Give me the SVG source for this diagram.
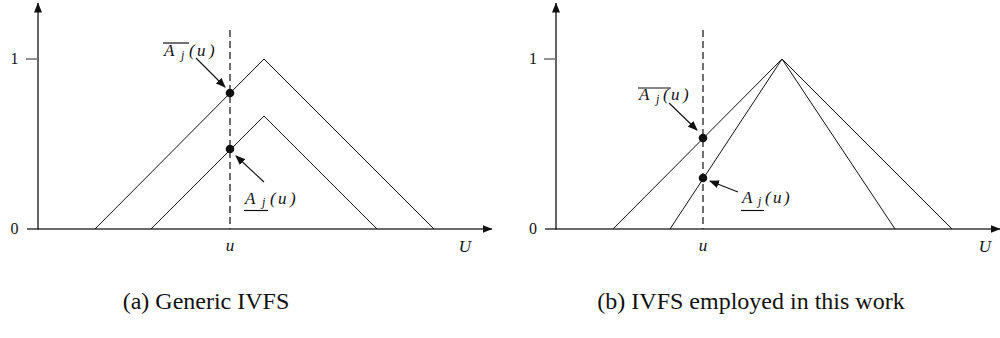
<svg xmlns="http://www.w3.org/2000/svg" width="1000" height="338" viewBox="0 0 1000 338">
<defs>
<marker id="ah" markerWidth="10" markerHeight="8" refX="9" refY="4" orient="auto" markerUnits="userSpaceOnUse">
<path d="M0,0 L10,4 L0,8 z" fill="#111"/>
</marker>
<marker id="axh" markerWidth="10" markerHeight="8" refX="9.5" refY="4" orient="auto" markerUnits="userSpaceOnUse">
<path d="M0,0 L10,4 L0,8 z" fill="#111"/>
</marker>
<style>
.yaxis{stroke:#111;stroke-width:1.3;fill:none}
.xaxis{stroke:#6a6a6a;stroke-width:1.8;fill:none}
.tick{stroke:#777;stroke-width:1.6;fill:none}
.tri{stroke:#111;stroke-width:1;fill:none}
.dash{stroke:#222;stroke-width:1.3;stroke-dasharray:7,4;fill:none}
.ptr{stroke:#111;stroke-width:1.1;fill:none;marker-end:url(#ah)}
.dot{fill:#111}
.lab{font-family:"Liberation Serif","DejaVu Serif",serif;font-style:italic;font-size:17px;fill:#111}
.sub{font-size:12px}
.num{font-family:"Liberation Serif","DejaVu Serif",serif;font-size:16px;fill:#111}
.cap{font-family:"Liberation Serif","DejaVu Serif",serif;font-size:24px;fill:#111}
.bar{stroke:#111;stroke-width:1.2}
</style>
</defs>
<g id="panel-a">
<g id="axes-a">
<line class="xaxis" x1="27" y1="229" x2="492" y2="229" marker-end="url(#axh)"/>
<line class="yaxis" x1="38" y1="229.5" x2="38" y2="3" marker-end="url(#axh)"/>
<line class="tick" x1="26" y1="59" x2="38" y2="59"/>
<text class="num" x="14.5" y="64" text-anchor="middle">1</text>
<text class="num" x="14.5" y="234" text-anchor="middle">0</text>
<text class="lab" x="230" y="251" text-anchor="middle">u</text>
<text class="lab" x="465" y="252" text-anchor="middle">U</text>
</g>
<g id="tri-a">
<polyline class="tri" points="95,229 264,59 434,229"/>
<polyline class="tri" points="151,229 264,116 377,229"/>
<line class="dash" x1="230" y1="30" x2="230" y2="229"/>
</g>
<g id="connectors-a">
<line class="ptr" x1="196" y1="58" x2="225" y2="87"/>
<line class="ptr" x1="264" y1="182" x2="236" y2="156"/>
</g>
<g id="points-a">
<circle class="dot" cx="230" cy="93" r="4.3"/>
<circle class="dot" cx="230" cy="149" r="4.3"/>
</g>
<g id="label-upper-a">
<text class="lab" y="56"><tspan x="164">A</tspan><tspan class="sub" x="181" y="59">j</tspan><tspan x="189 197 209" y="56">(u)</tspan></text>
<line class="bar" x1="163" y1="43" x2="189" y2="43"/>
</g>
<g id="label-lower-a">
<text class="lab" y="204"><tspan x="245">A</tspan><tspan class="sub" x="262" y="206">j</tspan><tspan x="270 278 290" y="204">(u)</tspan></text>
<line class="bar" x1="244" y1="210.5" x2="268" y2="210.5"/>
</g>
</g>
<g id="panel-b">
<g id="axes-b">
<line class="xaxis" x1="545" y1="229" x2="1000" y2="229" marker-end="url(#axh)"/>
<line class="yaxis" x1="556" y1="229.5" x2="556" y2="3" marker-end="url(#axh)"/>
<line class="tick" x1="544" y1="59" x2="556" y2="59"/>
<text class="num" x="533" y="64" text-anchor="middle">1</text>
<text class="num" x="533" y="234" text-anchor="middle">0</text>
<text class="lab" x="703" y="251" text-anchor="middle">u</text>
<text class="lab" x="985" y="252" text-anchor="middle">U</text>
</g>
<g id="tri-b">
<polyline class="tri" points="613,229 782,59 952,229"/>
<polyline class="tri" points="670,229 782,59 895,229"/>
<line class="dash" x1="703" y1="30" x2="703" y2="229"/>
</g>
<g id="connectors-b">
<line class="ptr" x1="669" y1="103" x2="697" y2="130"/>
<line class="ptr" x1="738" y1="192" x2="710" y2="181"/>
</g>
<g id="points-b">
<circle class="dot" cx="703" cy="138" r="4.3"/>
<circle class="dot" cx="703" cy="178" r="4.3"/>
</g>
<g id="label-upper-b">
<text class="lab" y="100"><tspan x="639">A</tspan><tspan class="sub" x="656" y="103">j</tspan><tspan x="663 671 683" y="100">(u)</tspan></text>
<line class="bar" x1="638" y1="88" x2="671" y2="88"/>
</g>
<g id="label-lower-b">
<text class="lab" y="203"><tspan x="742">A</tspan><tspan class="sub" x="758" y="205">j</tspan><tspan x="765 773 784" y="203">(u)</tspan></text>
<line class="bar" x1="741" y1="210.5" x2="764" y2="210.5"/>
</g>
</g>
<g id="captions">
<text class="cap" x="206" y="309" text-anchor="middle">(a) Generic IVFS</text>
<text class="cap" x="751" y="309" text-anchor="middle">(b) IVFS employed in this work</text>
</g>
</svg>
